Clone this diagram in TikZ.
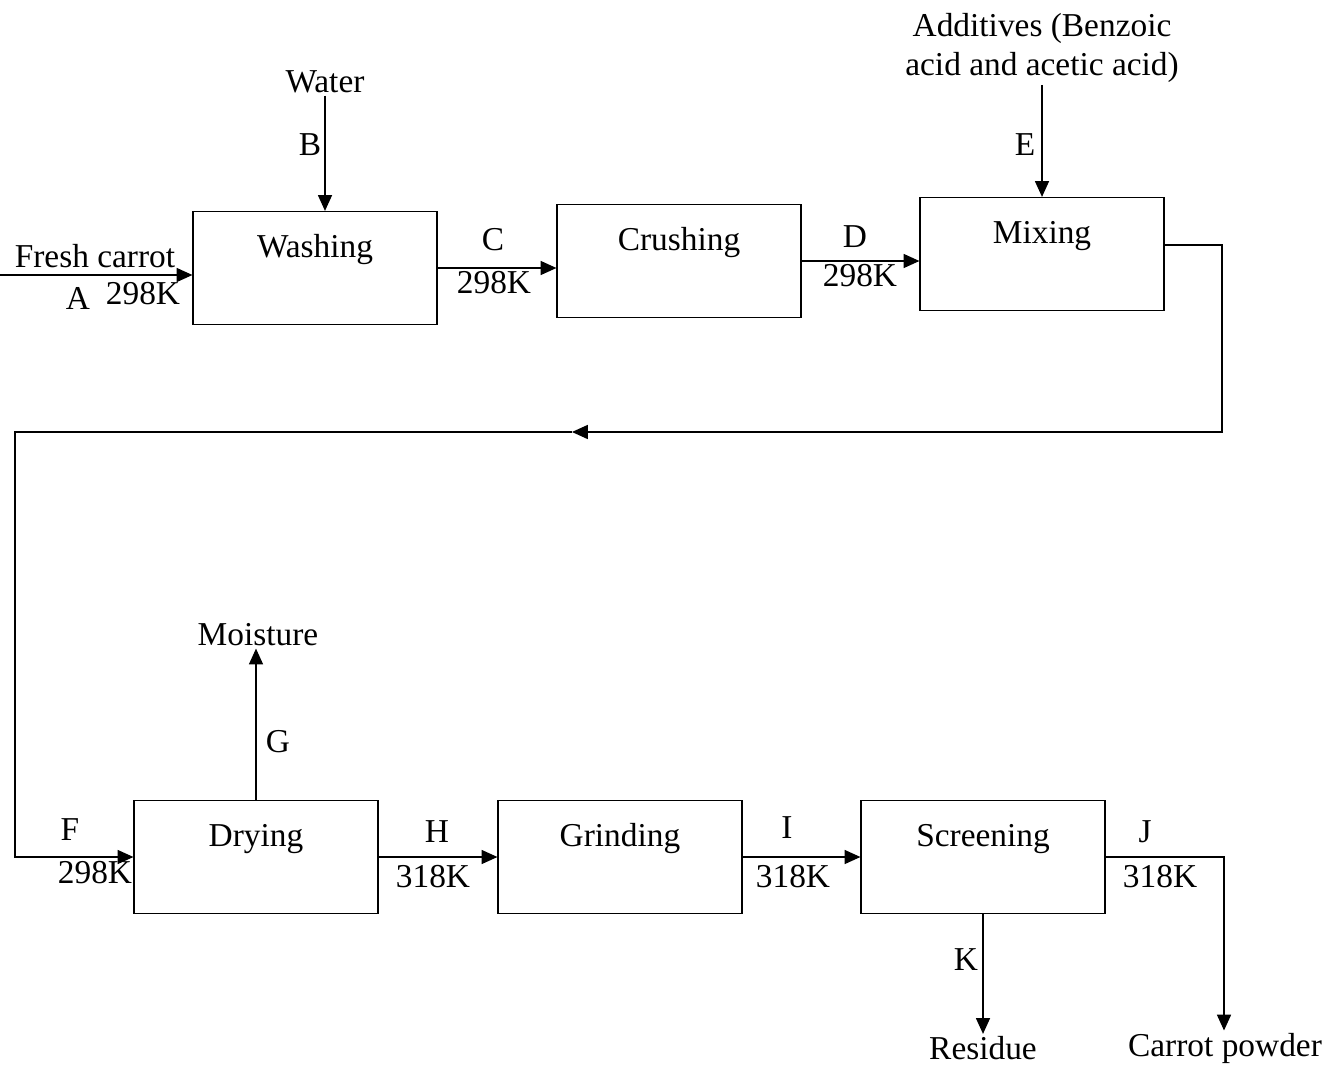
\documentclass[tikz,border=0pt]{standalone}
\usepackage{fontspec}
\setmainfont{Liberation Serif}
\usetikzlibrary{arrows.meta}
\tikzset{
    unit/.style={draw, line width=0.7pt, inner sep=0pt, minimum width=4.88cm,
        text height=0.92cm, text depth=1.34cm},
    tag/.style={inner sep=1pt}
}
\begin{document}
\begin{tikzpicture}[x=0.02cm, y=-0.02cm, line width=0.7pt,
        >={Triangle[length=9pt, width=8pt]}, font=\fontsize{19}{22}\selectfont]
    \useasboundingbox (0, 0) rectangle (1341, 1068);
    % process units
    \node[unit] (wash) at (315, 268) {Washing};
    \node[unit] (crush) at (679, 261) {Crushing};
    \node[unit] (mix) at (1042, 254) {Mixing};
    \node[unit] (dry) at (256, 857) {Drying};
    \node[unit] (grind) at (620, 857) {Grinding};
    \node[unit] (screen) at (983, 857) {Screening};
    % feeds and products
    \node[tag] (water) at (325, 82) {Water};
    \node[tag, align=center] (add) at (1042, 48) {Additives (Benzoic\\acid and acetic acid)};
    \node[tag] (moist) at (258, 635) {Moisture};
    \node[tag] (res) at (983, 1048) {Residue};
    \node[tag] (powder) at (1225, 1048) {Carrot powder};
    \coordinate (feed) at (0, 275);
    \coordinate (r1) at (1222, 245);
    \coordinate (r2) at (1222, 432);
    \coordinate (mid) at (572, 432);
    \coordinate (r3) at (15, 432);
    \coordinate (jc) at (1224, 857);
    % streams
    \draw[->] (feed) -- (feed -| wash.west);
    \draw[->] (water.south) -- (water.south |- wash.north);
    \draw[->] (wash.east) -- (wash.east -| crush.west);
    \draw[->] (crush.east) -- (crush.east -| mix.west);
    \draw[->] (add.south) -- (add.south |- mix.north);
    \draw[->] (mix.east |- r1) -- (r1) -- (r2) -- (mid);
    \draw[->] (mid) -- (r3) -- (r3 |- dry.west) -- (dry.west);
    \draw[->] (dry.north) -- (dry.north |- moist.south);
    \draw[->] (dry.east) -- (grind.west);
    \draw[->] (grind.east) -- (screen.west);
    \draw[->] (screen.east) -- (jc) -- (jc |- powder.north);
    \draw[->] (screen.south) -- (res.north);
    % stream labels
    \node[tag] (lFresh) at (95, 256) {Fresh carrot};
    \node[tag] (lA) at (78, 298) {A};
    \node[tag] (tA) at (143, 294) {298K};
    \node[tag] (lB) at (310, 145) {B};
    \node[tag] (lC) at (493, 240) {C};
    \node[tag] (tC) at (494, 283) {298K};
    \node[tag] (lD) at (855, 237) {D};
    \node[tag] (tD) at (860, 276) {298K};
    \node[tag] (lE) at (1025, 145) {E};
    \node[tag] (lF) at (70, 830) {F};
    \node[tag] (tF) at (95, 873) {298K};
    \node[tag] (lG) at (278, 742) {G};
    \node[tag] (lH) at (437, 832) {H};
    \node[tag] (tH) at (433, 877) {318K};
    \node[tag] (lI) at (787, 828) {I};
    \node[tag] (tI) at (793, 877) {318K};
    \node[tag] (lJ) at (1145, 832) {J};
    \node[tag] (tJ) at (1160, 877) {318K};
    \node[tag] (lK) at (966, 960) {K};
\end{tikzpicture}
\end{document}
